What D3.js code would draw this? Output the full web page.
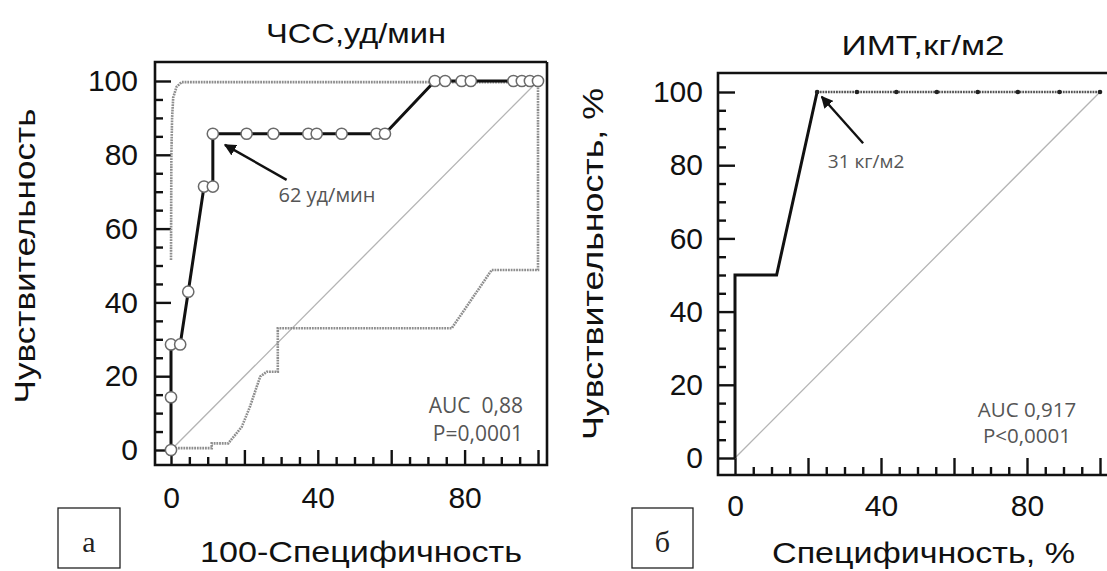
<!DOCTYPE html>
<html><head><meta charset="utf-8">
<script src="https://cdn.jsdelivr.net/npm/d3@7"></script>
<style>
html,body{margin:0;padding:0;background:#fff;}
svg{display:block;}
</style></head>
<body>
<svg id="c" width="1107" height="571" font-family="Liberation Sans, Arial, sans-serif"></svg>
<script>
// ---------- DATA ----------
// Panel а : ЧСС
const hrFpr  = [0,0,0,2.5,4.7,9.0,11.4,11.4,20.6,27.9,37.4,39.7,46.5,56.0,58.3,71.9,74.7,79.2,81.7,93.3,95.6,97.8,100];
const hrSens = [0,14.3,28.6,28.6,42.9,71.4,71.4,85.7,85.7,85.7,85.7,85.7,85.7,85.7,85.7,100,100,100,100,100,100,100,100];
const hrUpperX = [0,0.1,0.3,0.6,1.5,2.9,100];
const hrUpperY = [51.5,80,90,95.5,98.4,99.7,99.7];
const hrLowerX = [100,100,87.4,76.5,29.1,29.1,26.1,24.3,21.5,19.3,15.6,11.1,11.1,1.5,0];
const hrLowerY = [99.7,48.8,48.8,33.0,33.0,21.2,21.2,19.9,11.7,6.3,1.8,1.8,0.5,0.5,0];
// Panel б : ИМТ
const bmiX = [0,0,11.4,22.5,33.4,44.2,55.3,66.5,77.5,88.9,100];
const bmiY = [0,50,50,100,100,100,100,100,100,100,100];
const bmiDotX = [22.5,33.4,44.2,55.3,66.5,77.5,88.9,100];
const bmiDotY = [100,100,100,100,100,100,100,100];
// ticks
const majorTicks = [0,20,40,60,80,100];
const minorTicks = d3.range(0,101,5).filter(v=>v%20!==0);
const yTickLabels = [0,20,40,60,80,100];
const xTickLabels = [0,40,80];
// texts
const titles = ["ЧСС,уд/мин","ИМТ,кг/м2"];
const yTitles = ["Чувствительность","Чувствительность, %"];
const xTitles = ["100-Специфичность","Специфичность, %"];
const panelLetters = ["а","б"];
const cutoffLabels = ["62 уд/мин","31 кг/м2"];
const aucLabels = [["AUC\u00a0 0,88","P=0,0001"],["AUC 0,917","P<0,0001"]];

// ---------- LAYOUT ----------
const svg = d3.select("#c");
const panels = [
  {frame:{x0:155,x1:547,y0:62,y1:465}, xr:[171,538], yr:[450,81],
   title:{x:356,y:43,len:180}, ytitle:{x:35,y:256,len:295}, xtitle:{x:200,y:562,len:322},
   box:{x:58,y:508,w:62,h:60}, labPad:17, xLabPad:22,
   cut:{tx:42.5,ty:67.2, ax0:31.5,ay0:73.2, ax1:14.7,ay1:82.7, fs:20},
   auc:{x:95.9,y1:10.0,y2:2.4,anchor:"end", fs:21}},
  {frame:{x0:718,x1:1140,y0:73,y1:475}, xr:[735,1100], yr:[458,92],
   title:{x:923,y:55,len:163}, ytitle:{x:603,y:264,len:352}, xtitle:{x:772,y:563,len:303},
   box:{x:632,y:508,w:61,h:60}, labPad:15, xLabPad:20,
   cut:{tx:35.9,ty:79.2, ax0:35.1,ay0:86.0, ax1:23.75,ay1:98.7, fs:19},
   auc:{x:80,y1:11.2,y2:4.1,anchor:"middle", fs:20.5}}
];

svg.append("defs").append("marker")
  .attr("id","ah").attr("viewBox","0 0 10 10").attr("refX",9).attr("refY",5)
  .attr("markerWidth",5).attr("markerHeight",5).attr("orient","auto")
  .append("path").attr("d","M0,0 L10,5 L0,10 z").attr("fill","#111");

panels.forEach((p,i)=>{
  const x = d3.scaleLinear().domain([0,100]).range(p.xr);
  const y = d3.scaleLinear().domain([0,100]).range(p.yr);
  const g = svg.append("g");
  const f = p.frame;

  // ticks (inside frame)
  const tk = (axis, tx, ty, vals, size) => {
    const a = g.append("g").attr("transform",`translate(${tx},${ty})`)
      .call(axis.tickValues(vals).tickSize(size).tickFormat(""));
    a.select(".domain").remove();
    a.selectAll("line").attr("stroke","#111").attr("stroke-width",2.4);
  };
  tk(d3.axisRight(y), f.x0, 0, majorTicks, x(0)-f.x0);
  tk(d3.axisRight(y), f.x0, 0, minorTicks, 8);
  tk(d3.axisTop(x), 0, f.y1, majorTicks, f.y1-y(0));
  tk(d3.axisTop(x), 0, f.y1, minorTicks, 8);

  // tick labels
  const yl = g.append("g").attr("transform",`translate(${f.x0},0)`)
    .call(d3.axisLeft(y).tickValues(yTickLabels).tickSize(0).tickPadding(p.labPad));
  yl.select(".domain").remove();
  const xl = g.append("g").attr("transform",`translate(0,${f.y1})`)
    .call(d3.axisBottom(x).tickValues(xTickLabels).tickSize(0).tickPadding(p.xLabPad));
  xl.select(".domain").remove();
  g.selectAll("g").attr("font-family",null);
  g.selectAll(".tick text").style("font-family","Liberation Sans, Arial, sans-serif")
    .style("font-size","30px").attr("fill","#111");

  // frame
  g.append("path").attr("d",`M${f.x1},${f.y0} H${f.x0} V${f.y1} H${f.x1}` + (f.x1<1107?` V${f.y0}`:""))
    .attr("fill","none").attr("stroke","#111").attr("stroke-width",2.6);

  // diagonal
  g.append("line").attr("x1",x(0)).attr("y1",y(0)).attr("x2",x(100)).attr("y2",y(100))
    .attr("stroke","#b4b4b4").attr("stroke-width",1.3);

  const line = d3.line().x(d=>x(d[0])).y(d=>y(d[1]));

  if(i===0){
    const up = hrUpperX.map((v,k)=>[v,hrUpperY[k]]);
    const lo = hrLowerX.map((v,k)=>[v,hrLowerY[k]]);
    [up,lo].forEach(d=>g.append("path").attr("d",line(d)).attr("fill","none")
      .attr("stroke","#8e8e8e").attr("stroke-width",2.6).attr("stroke-dasharray","1.8,0.9"));
    const pts = hrFpr.map((v,k)=>[v,hrSens[k]]);
    g.append("path").attr("d",line(pts)).attr("fill","none").attr("stroke","#111")
      .attr("stroke-width",3).attr("stroke-linejoin","round");
    g.selectAll("circle.pt").data(pts).join("circle").attr("class","pt")
      .attr("cx",d=>x(d[0])).attr("cy",d=>y(d[1])).attr("r",5.6)
      .attr("fill","#fff").attr("stroke","#6a6a6a").attr("stroke-width",1.5);
  } else {
    const pts = bmiX.map((v,k)=>[v,bmiY[k]]);
    const k0 = 3;
    g.append("path").attr("d",line(pts.slice(0,k0+1))).attr("fill","none").attr("stroke","#111")
      .attr("stroke-width",3).attr("stroke-linejoin","miter");
    g.append("path").attr("d",line(pts.slice(k0))).attr("fill","none").attr("stroke","#555")
      .attr("stroke-width",2.4).attr("stroke-dasharray","1.8,0.9");
    g.selectAll("circle.dot").data(bmiDotX.map((v,k)=>[v,bmiDotY[k]])).join("circle")
      .attr("class","dot").attr("cx",d=>x(d[0])).attr("cy",d=>y(d[1])).attr("r",2.3).attr("fill","#222");
  }

  // cutoff annotation
  const c = p.cut;
  g.append("line").attr("x1",x(c.ax0)).attr("y1",y(c.ay0)).attr("x2",x(c.ax1)).attr("y2",y(c.ay1))
    .attr("stroke","#111").attr("stroke-width",2.4).attr("marker-end","url(#ah)");
  g.append("text").attr("x",x(c.tx)).attr("y",y(c.ty)).attr("text-anchor","middle")
    .attr("font-family","Open Sans, Liberation Sans, sans-serif")
    .attr("font-size",c.fs).attr("fill","#555").text(cutoffLabels[i]);

  // AUC
  const a = p.auc;
  [0,1].forEach(k=>g.append("text").attr("x",x(a.x)).attr("y",y(k?a.y2:a.y1)).attr("text-anchor",a.anchor)
    .attr("font-family","Open Sans, Liberation Sans, sans-serif")
    .attr("font-size",a.fs).attr("fill","#555").text(aucLabels[i][k]));

  // titles
  g.append("text").attr("x",p.title.x).attr("y",p.title.y).attr("text-anchor","middle")
    .attr("font-size",28).attr("fill","#111").attr("textLength",p.title.len)
    .attr("lengthAdjust","spacingAndGlyphs").text(titles[i]);
  g.append("text").attr("transform",`translate(${p.ytitle.x},${p.ytitle.y}) rotate(-90)`)
    .attr("text-anchor","middle").attr("font-size",30).attr("fill","#111")
    .attr("textLength",p.ytitle.len).attr("lengthAdjust","spacingAndGlyphs").text(yTitles[i]);
  g.append("text").attr("x",p.xtitle.x).attr("y",p.xtitle.y).attr("font-size",30).attr("fill","#111")
    .attr("textLength",p.xtitle.len).attr("lengthAdjust","spacingAndGlyphs").text(xTitles[i]);

  // panel letter box
  const b = p.box;
  g.append("rect").attr("x",b.x).attr("y",b.y).attr("width",b.w).attr("height",b.h)
    .attr("fill","#fff").attr("stroke","#222").attr("stroke-width",1.3);
  g.append("text").attr("x",b.x+b.w/2).attr("y",b.y+44).attr("text-anchor","middle")
    .attr("font-family","Liberation Serif, Times New Roman, serif").attr("font-size",30)
    .attr("fill","#222").text(panelLetters[i]);
});
</script>
</body></html>
